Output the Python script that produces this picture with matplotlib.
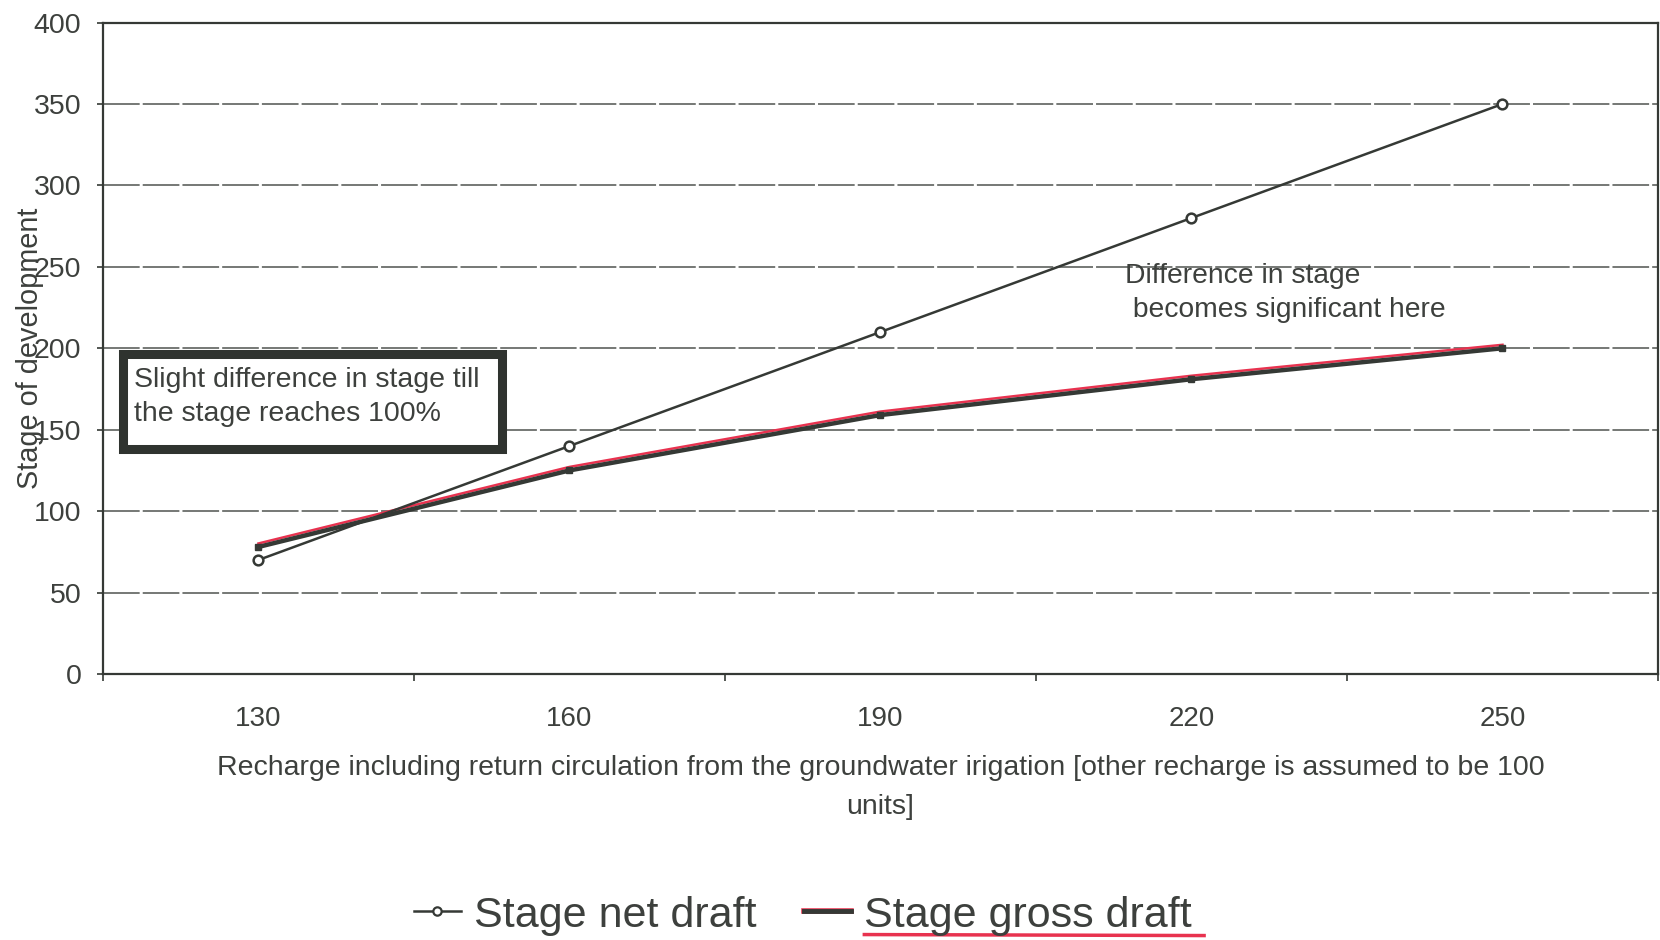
import numpy as np
import matplotlib.pyplot as plt
from matplotlib.lines import Line2D
from matplotlib.patches import Rectangle
from matplotlib.transforms import offset_copy, IdentityTransform

plt.rcParams['font.family'] = ['Liberation Sans', 'DejaVu Sans']

# --- dados ---
recarga = [130, 160, 190, 220, 250]
estagio_liquido = [70, 140, 210, 280, 350]
estagio_bruto = [78, 125, 159, 181, 200]

cor_texto = '#3d403d'
cor_linha = '#353935'
cor_vermelho = '#e8324f'

fig = plt.figure(figsize=(16.6, 9.4), dpi=100)
ax = fig.add_axes([0.062, 0.283, 0.9368, 0.693])

# grade tracejada
ax.set_ylim(0, 400)
ax.set_xlim(115, 265)
ax.set_yticks(np.arange(0, 401, 50))
ax.yaxis.grid(True, color='#505450', lw=1.1, linestyle=(0, (24, 2)))
ax.set_axisbelow(True)

# linha vermelha (marca de caneta) por baixo da série bruta
deslocado = offset_copy(ax.transData, fig=fig, x=0, y=2.5, units='points')
ax.plot(recarga, estagio_bruto, color=cor_vermelho, lw=1.8, transform=deslocado, zorder=2)

l_bruto, = ax.plot(recarga, estagio_bruto, color=cor_linha, lw=3.2, marker='s',
                   ms=5, zorder=3)
l_liq, = ax.plot(recarga, estagio_liquido, color=cor_linha, lw=1.8, marker='o',
                 ms=7, mfc='white', mec=cor_linha, mew=1.8, zorder=4)

# eixos
for s in ax.spines.values():
    s.set_color(cor_linha)
    s.set_linewidth(1.6)
ax.set_xticks(recarga)
ax.set_xticks(np.arange(115, 266, 30), minor=True)
ax.tick_params(axis='x', which='major', length=0, pad=23, labelsize=20, labelcolor=cor_texto)
ax.tick_params(axis='x', which='minor', length=5, width=1.2, color=cor_linha)
ax.tick_params(axis='y', length=4.5, width=1.2, color=cor_linha, pad=11,
               labelsize=20.5, labelcolor=cor_texto)

ax.set_xlabel('Recharge including return circulation from the groundwater irigation '
              '[other recharge is assumed to be 100\nunits]',
              fontsize=20.5, color=cor_texto, linespacing=1.62, va='top')
ax.xaxis.set_label_coords(0.5, -0.125)
# no original o rótulo do eixo y fica por cima dos números
ax.set_ylabel('Stage of development', fontsize=20.8, color=cor_texto)
ax.yaxis.set_label_coords(-0.038, 0.5)

# caixa de anotação
ax.add_patch(Rectangle((0.0132, 0.3461), 0.2437, 0.1458, transform=ax.transAxes,
                       fill=True, fc='white', ec='#2f332f', lw=6.5, zorder=5))
ax.text(0.0199, 0.4252, 'Slight difference in stage till\nthe stage reaches 100%',
        transform=ax.transAxes, fontsize=20.5, color=cor_texto, va='center', ha='left',
        linespacing=1.42, zorder=6)
ax.text(0.657, 0.5848, 'Difference in stage\n becomes significant here',
        transform=ax.transAxes, fontsize=20.3, color=cor_texto, va='center', ha='left',
        linespacing=1.4, zorder=6)

# legenda
h_liq = Line2D([], [], color=cor_linha, lw=1.8, marker='o', ms=6, mfc='white',
               mec=cor_linha, mew=1.6)
h_vermelho = Line2D([], [], color=cor_vermelho, lw=4)
h_bruto = Line2D([], [], color=cor_linha, lw=3.5)
leg = fig.legend([h_liq, (h_vermelho, h_bruto)], ['Stage net draft', 'Stage gross draft'],
                 loc='center', bbox_to_anchor=(0.4837, 0.026), ncol=2, frameon=False,
                 fontsize=31, handlelength=1.1, handletextpad=0.3, columnspacing=1.1,
                 labelcolor=cor_texto)

# sublinhado vermelho feito à mão sob a segunda entrada
fig.canvas.draw()
bb = leg.get_texts()[1].get_window_extent()
fig.add_artist(Line2D([bb.x0, bb.x1 + 12], [bb.y0 + 1, bb.y0], color=cor_vermelho,
                      lw=2.5, transform=IdentityTransform()))

fig.savefig('out.png', dpi=100, facecolor='white')
